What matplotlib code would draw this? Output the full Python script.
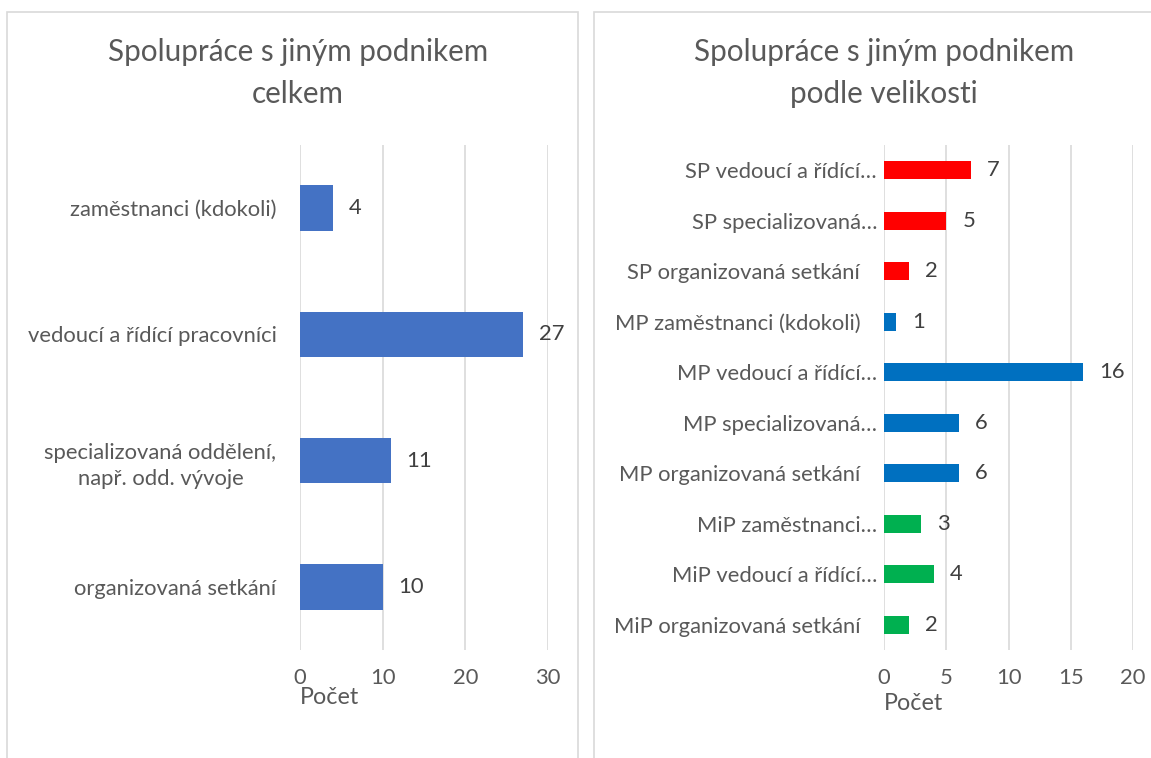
import matplotlib.pyplot as plt
from matplotlib.patches import Rectangle

# levy graf - celkem
cats_total = ['organizovaná setkání', 'specializovaná oddělení,\nnapř. odd. vývoje',
              'vedoucí a řídící pracovníci', 'zaměstnanci (kdokoli)']
vals_total = [10, 11, 27, 4]

# pravy graf - podle velikosti (odspodu nahoru)
cats_size = ['MiP organizovaná setkání', 'MiP vedoucí a řídící…', 'MiP zaměstnanci…',
             'MP organizovaná setkání', 'MP specializovaná…', 'MP vedoucí a řídící…',
             'MP zaměstnanci (kdokoli)',
             'SP organizovaná setkání', 'SP specializovaná…', 'SP vedoucí a řídící…']
vals_size = [2, 4, 3, 6, 6, 16, 1, 2, 5, 7]
groups_size = ['MiP', 'MiP', 'MiP', 'MP', 'MP', 'MP', 'MP', 'SP', 'SP', 'SP']
group_colors = {'SP': '#FF0000', 'MP': '#0070C0', 'MiP': '#00B050'}

plt.rcParams['font.family'] = ['Lato', 'DejaVu Sans']
txt = '#595959'
grid = '#D9D9D9'
fs = 15.8

fig = plt.figure(figsize=(11.51, 7.58), dpi=100)
W, H = 1151, 758

# ramecky panelu
fig.patches.append(Rectangle((7 / W, -0.01), 571 / W, 1 - 12 / H + 0.01, transform=fig.transFigure,
                             fill=False, edgecolor='#D9D9D9', lw=1.2))
fig.patches.append(Rectangle((594 / W, -0.01), 0.5, 1 - 12 / H + 0.01, transform=fig.transFigure,
                             fill=False, edgecolor='#D9D9D9', lw=1.2))

def style(ax, xmax, step, ypad):
    ax.set_xlim(0, xmax)
    ax.set_xticks(range(0, xmax + 1, step))
    ax.grid(axis='x', color=grid, lw=1.2)
    ax.set_axisbelow(True)
    for s in ax.spines.values():
        s.set_visible(False)
    ax.tick_params(length=0, colors=txt, labelsize=fs, pad=13)
    ax.tick_params(axis='y', pad=ypad)

ax1 = fig.add_axes([300 / W, 1 - 650 / H, 248 / W, 505 / H])
y1 = range(len(cats_total))
bars = ax1.barh(y1, vals_total, height=0.36, color='#4472C4')
ax1.set_yticks(list(y1))
ax1.set_yticklabels(cats_total, linespacing=1.4, multialignment='center')
ax1.set_ylim(-0.5, len(cats_total) - 0.5)
style(ax1, 30, 10, 17)
for b, v in zip(bars, vals_total):
    ax1.text(v + 1.9, b.get_y() + b.get_height() / 2, str(v), va='center', ha='left',
             color='#404040', fontsize=fs)
fig.text(300 / W, 1 - 697 / H, 'Počet', color=txt, fontsize=fs + 1, va='center', ha='left')
fig.text(298 / W, 1 - 38 / H, 'Spolupráce s jiným podnikem\ncelkem', color=txt, fontsize=21.3,
         ha='center', va='top', linespacing=1.62)

ax2 = fig.add_axes([884 / W, 1 - 650 / H, 249 / W, 505 / H])
y2 = range(len(cats_size))
cols = [group_colors[g] for g in groups_size]
bars2 = ax2.barh(y2, vals_size, height=0.36, color=cols)
ax2.set_yticks(list(y2))
ax2.set_yticklabels([c if c.endswith('…') else c + '   ' for c in cats_size])
ax2.set_ylim(-0.5, len(cats_size) - 0.5)
style(ax2, 20, 5, 5)
for b, v in zip(bars2, vals_size):
    ax2.text(v + 1.3, b.get_y() + b.get_height() / 2, str(v), va='center', ha='left',
             color='#404040', fontsize=fs)
fig.text(884 / W, 1 - 704 / H, 'Počet', color=txt, fontsize=fs + 1, va='center', ha='left')
fig.text(884 / W, 1 - 38 / H, 'Spolupráce s jiným podnikem\npodle velikosti', color=txt,
         fontsize=21.3, ha='center', va='top', linespacing=1.62)

fig.savefig('out.png', dpi=100)
